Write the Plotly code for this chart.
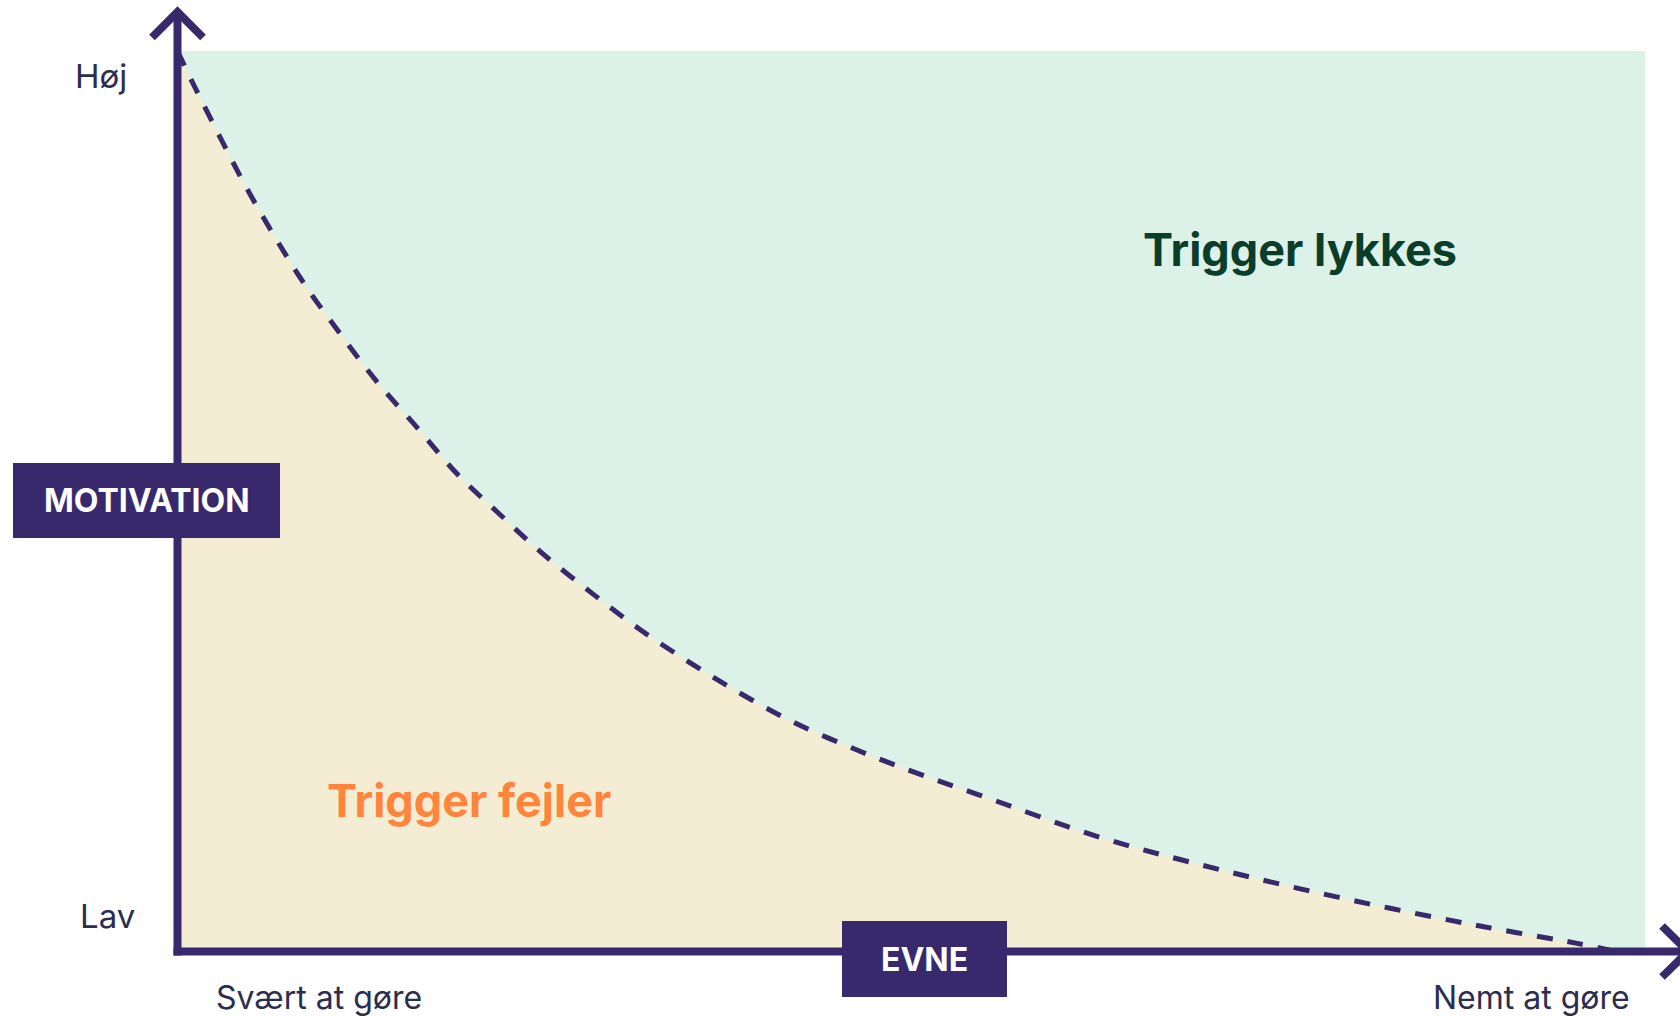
import plotly.graph_objects as go

# ---- data ----
ability = [0, 0.12, 0.30, 0.48, 0.69, 0.90, 1.14, 1.39, 1.67, 1.94, 2.23, 2.53, 2.88,
           3.22, 3.57, 3.92, 4.29, 4.72, 5.14, 5.57, 6.41, 7.07, 7.74, 8.43,
           9.10, 9.73, 10]
motivation = [10, 9.60, 9.03, 8.48, 7.90, 7.37, 6.84, 6.32, 5.81, 5.31, 4.87, 4.43,
              3.98, 3.57, 3.20, 2.86, 2.54, 2.24, 1.98, 1.74, 1.27, 0.98, 0.72,
              0.48, 0.27, 0.09, 0]
y_labels = ["Lav", "Høj"]
x_labels = ["Svært at gøre", "Nemt at gøre"]
x_title = "EVNE"
y_title = "MOTIVATION"
zone_labels = ["Trigger lykkes", "Trigger fejler"]

# ---- layout geometry (pixels of a 1680x1018 page) ----
W, H = 1680, 1018
X0, Y0 = 177.5, 951.5
SX, SY = 143.85, 90.05


def dx(p):
    return (p - X0) / SX


def dy(p):
    return (Y0 - p) / SY


PURPLE = "#37296b"
GREEN_BG = "#dcf2e8"
BEIGE = "#f5edd3"
DARK_GREEN = "#0b3d2b"
ORANGE = "#ff853c"
NAVY = "#2b2d4f"
FONT = "Inter"

fig = go.Figure()

fig.add_trace(go.Scatter(
    x=ability, y=motivation, mode="lines",
    line=dict(color="rgba(0,0,0,0)", width=0, shape="spline"),
    fill="tozeroy", fillcolor=BEIGE, hoverinfo="skip", showlegend=False))
fig.add_trace(go.Scatter(
    x=ability, y=motivation, mode="lines",
    line=dict(color=PURPLE, width=5, dash="16px,15px", shape="spline"),
    hoverinfo="skip", showlegend=False))

shapes = [
    # green success region
    dict(type="rect", xref="x", yref="y", x0=dx(X0), x1=dx(1645), y0=dy(Y0), y1=dy(51),
         fillcolor=GREEN_BG, line=dict(width=0), layer="below"),
    # y axis
    dict(type="line", xref="x", yref="y", x0=dx(X0), x1=dx(X0), y0=dy(955.5), y1=dy(12),
         line=dict(color=PURPLE, width=8), layer="above"),
    dict(type="path", xref="x", yref="y",
         path=f"M {dx(152)},{dy(37.5)} L {dx(X0)},{dy(12)} L {dx(203)},{dy(37.5)}",
         line=dict(color=PURPLE, width=8), layer="above"),
    # x axis
    dict(type="line", xref="x", yref="y", x0=dx(173.5), x1=dx(1688), y0=dy(Y0), y1=dy(Y0),
         line=dict(color=PURPLE, width=8), layer="above"),
    dict(type="path", xref="x", yref="y",
         path=f"M {dx(1662)},{dy(926)} L {dx(1688)},{dy(Y0)} L {dx(1662)},{dy(977)}",
         line=dict(color=PURPLE, width=8), layer="above"),
    # title boxes
    dict(type="rect", xref="x", yref="y", x0=dx(13), x1=dx(280), y0=dy(538), y1=dy(463),
         fillcolor=PURPLE, line=dict(width=0), layer="above"),
    dict(type="rect", xref="x", yref="y", x0=dx(842), x1=dx(1007), y0=dy(997), y1=dy(921),
         fillcolor=PURPLE, line=dict(width=0), layer="above"),
]

annotations = [
    dict(x=dx(101), y=dy(76), text=y_labels[1], font=dict(family=FONT, size=33, color=NAVY)),
    dict(x=dx(107), y=dy(916), text=y_labels[0], font=dict(family=FONT, size=33, color=NAVY)),
    dict(x=dx(319), y=dy(997), text=x_labels[0], font=dict(family=FONT, size=32, color=NAVY)),
    dict(x=dx(1531), y=dy(997), text=x_labels[1], font=dict(family=FONT, size=32, color=NAVY)),
    dict(x=dx(146.5), y=dy(500), text=f"<b>{y_title}</b>",
         font=dict(family=FONT, size=32, color="white")),
    dict(x=dx(924.5), y=dy(959), text=f"<b>{x_title}</b>",
         font=dict(family=FONT, size=32, color="white")),
    dict(x=dx(1300), y=dy(249), text=f"<b>{zone_labels[0]}</b>",
         font=dict(family=FONT, size=45, color=DARK_GREEN)),
    dict(x=dx(469), y=dy(800), text=f"<b>{zone_labels[1]}</b>",
         font=dict(family=FONT, size=45, color=ORANGE)),
]
for a in annotations:
    a.update(xref="x", yref="y", showarrow=False, xanchor="center", yanchor="middle")

fig.update_layout(
    width=W, height=H, margin=dict(l=0, r=0, t=0, b=0),
    paper_bgcolor="white", plot_bgcolor="white",
    xaxis=dict(range=[dx(0), dx(W)], visible=False, fixedrange=True),
    yaxis=dict(range=[dy(H), dy(0)], visible=False, fixedrange=True),
    shapes=shapes, annotations=annotations, showlegend=False,
)

fig.write_html(
    "out.html",
    config={"displayModeBar": False},
    post_script="document.body.style.margin='0';document.body.style.overflow='hidden';",
)
